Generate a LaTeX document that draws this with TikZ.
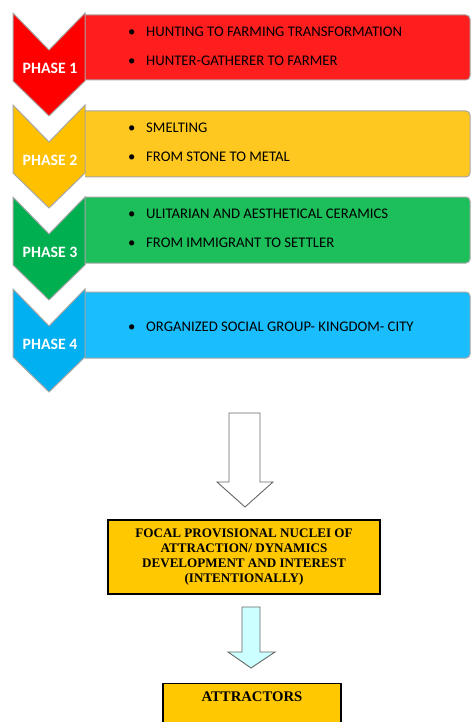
\documentclass[tikz,border=0pt]{standalone}
\usepackage{fontspec}
\setmainfont{Carlito}
\newfontfamily\boxserif{Liberation Serif}
\definecolor{chevA}{HTML}{FF0000}
\definecolor{rectA}{HTML}{FF1E1E}
\definecolor{chevB}{HTML}{FFC000}
\definecolor{rectB}{HTML}{FFC820}
\definecolor{chevC}{HTML}{00B050}
\definecolor{rectC}{HTML}{1DBF5A}
\definecolor{chevD}{HTML}{00B0F0}
\definecolor{rectD}{HTML}{1ABEFF}
\definecolor{edge}{HTML}{A6A6A6}
\definecolor{focalfill}{HTML}{FFC800}
\definecolor{arrowfill}{HTML}{CCFFFF}
\newcommand\bul{\makebox[18pt][l]{\textbullet}}
\tikzset{
	phaselbl/.style={text=white,font=\bfseries\fontsize{15.8}{18}\selectfont},
	item/.style={anchor=west,inner sep=0pt,font=\fontsize{14.7}{17}\selectfont},
	focalbox/.style={draw=black,line width=1.3pt,fill=focalfill,align=center,font=\boxserif\bfseries\fontsize{13.1}{15}\selectfont},
	blockarrow/.style={draw=gray!80!black,line width=0.9pt,line join=miter}
}
\begin{document}
\begin{tikzpicture}[x=1pt,y=-1pt]
			\clip (0,0) rectangle (471,722);
			\foreach \n/\t/\ra/\rb/\cc/\rc in {1/13/15/80/chevA/rectA,2/105/111/177/chevB/rectB,3/197/197/263/chevC/rectC,4/289/292/358/chevD/rectD}{
				\draw [edge,line width=1pt,fill=\rc,rounded corners=4pt] (85,\ra)--(470,\ra)--(470,\rb)--(85,\rb);
				\draw [edge,line width=1pt,fill=\cc] (13,\t)--(49,\t+37)--(85,\t)--(85,\t+68)--(49,\t+103)--(13,\t+68)--cycle;
				\node [phaselbl] (phase\n) at (50,\t+55) {PHASE \n};
			}
			\node [item] (item11) at (128,32) {\bul HUNTING TO FARMING TRANSFORMATION};
			\node [item] (item12) at (128,61) {\bul HUNTER-GATHERER TO FARMER};
			\node [item] (item21) at (128,128) {\bul SMELTING};
			\node [item] (item22) at (128,157) {\bul FROM STONE TO METAL};
			\node [item] (item31) at (128,214) {\bul ULITARIAN AND AESTHETICAL CERAMICS};
			\node [item] (item32) at (128,243) {\bul FROM IMMIGRANT TO SETTLER};
			\node [item] (item41) at (128,327) {\bul ORGANIZED SOCIAL GROUP- KINGDOM- CITY};

			\draw [blockarrow,fill=white] (229,413)--(260,413)--(260,482)--(273,482)--(245,507)--(217,482)--(229,482)--cycle;
			\node [focalbox,minimum width=272pt,minimum height=74pt] (focal) at (244,557) {FOCAL PROVISIONAL NUCLEI OF\\ATTRACTION/ DYNAMICS\\DEVELOPMENT AND INTEREST\\(INTENTIONALLY)};
			\draw [blockarrow,fill=arrowfill] (242,607)--(260,607)--(260,652)--(275,652)--(251,668)--(228,652)--(242,652)--cycle;
			\node [focalbox,anchor=north,minimum width=178pt,minimum height=60pt,label={[font=\boxserif\bfseries\fontsize{14.7}{16}\selectfont,anchor=north,label distance=-5pt]north:ATTRACTORS}] (attr) at (252,683) {};
\end{tikzpicture}
\end{document}
